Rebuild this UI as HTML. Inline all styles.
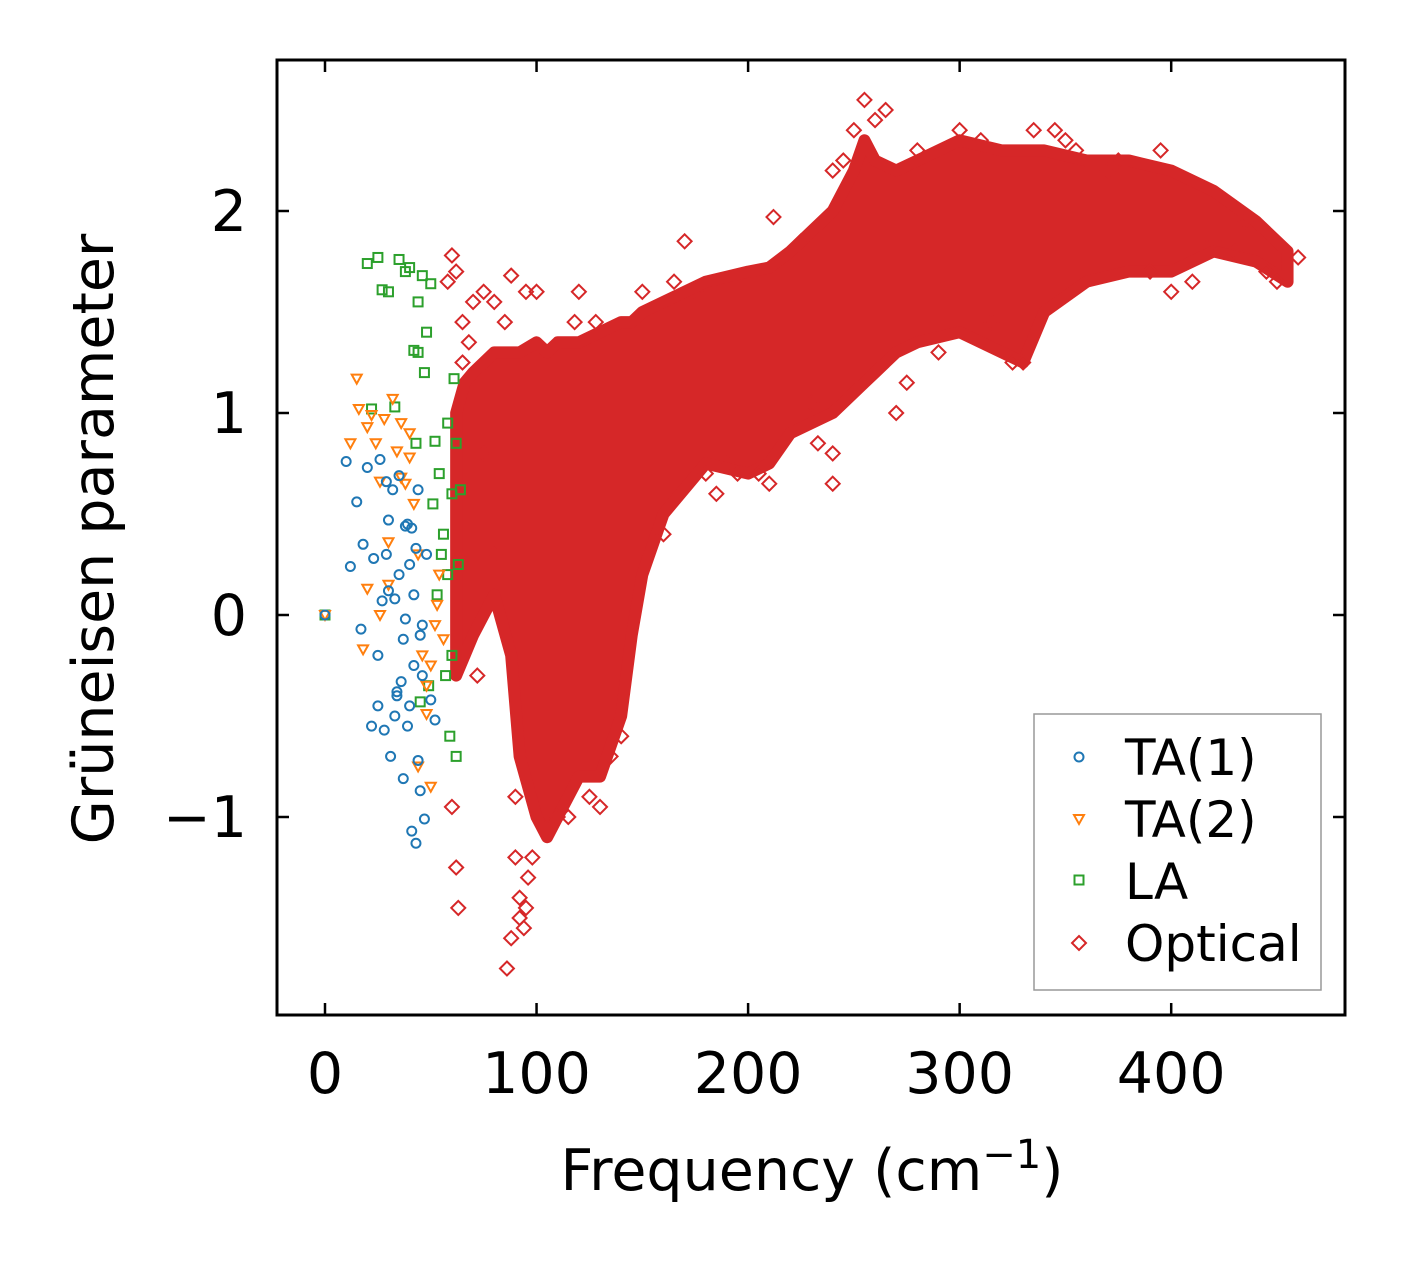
<!DOCTYPE html>
<html><head><meta charset="utf-8">
<style>
html,body{margin:0;padding:0;background:#fff;}
svg{display:block;font-family:"DejaVu Sans","Liberation Sans",sans-serif;}
</style></head>
<body>
<svg id="chart" width="1406" height="1264" viewBox="0 0 1406 1264" xmlns="http://www.w3.org/2000/svg" style="position:absolute;left:0;top:0">
<rect width="1406" height="1264" fill="#fff"/>
<g id="plot"></g>
<g id="axes"></g>
</svg>
<script>
// ---- data ----
const xTicks = [0, 100, 200, 300, 400];
const yTicks = [-1, 0, 1, 2];
const yTickLabels = ["\u22121", "0", "1", "2"];
// dense optical cloud envelope
const envFreq  = [62, 66, 70, 80, 88, 92, 100, 105, 110, 120, 130, 140, 145, 150, 160, 180, 200, 210, 220, 240, 250, 255, 260, 270, 280, 300, 320, 330, 340, 360, 380, 400, 420, 440, 455];
const envUpper = [1.0, 1.15, 1.2, 1.3, 1.3, 1.3, 1.35, 1.3, 1.35, 1.35, 1.4, 1.45, 1.45, 1.5, 1.55, 1.65, 1.7, 1.72, 1.8, 2.0, 2.2, 2.35, 2.25, 2.2, 2.25, 2.35, 2.3, 2.3, 2.3, 2.25, 2.25, 2.2, 2.1, 1.95, 1.8];
const envLower = [-0.3, -0.2, -0.1, 0.1, -0.2, -0.7, -1.0, -1.1, -1.0, -0.8, -0.8, -0.5, -0.1, 0.2, 0.5, 0.75, 0.7, 0.75, 0.9, 1.0, 1.1, 1.15, 1.2, 1.3, 1.35, 1.4, 1.3, 1.25, 1.5, 1.65, 1.7, 1.7, 1.8, 1.75, 1.65];
const optFreq = [60,58,62,65,70,75,80,88,95,100,120,170,212,240,255,265,300,335,60,62,63,86,88,92,96,130,240,240,233,270,330,400,390,450,460,72,75,80,65,68,90,92,94,98,105,115,125,140,160,180,190,210,230,250,280,310,350,370,420,430,445,85,90,95,110,118,128,135,150,165,175,185,195,205,225,245,260,275,290,315,325,345,355,375,395,410,435];
const optG    = [1.78,1.65,1.7,1.45,1.55,1.6,1.55,1.68,1.6,1.6,1.6,1.85,1.97,2.2,2.55,2.5,2.4,2.4,-0.95,-1.25,-1.45,-1.75,-1.6,-1.5,-1.3,-0.95,0.8,0.65,0.85,1.0,1.25,1.6,1.7,1.65,1.77,-0.3,0.8,0.3,1.25,1.35,-1.2,-1.4,-1.55,-1.2,-1.05,-1.0,-0.9,-0.6,0.4,0.7,0.75,0.65,1.05,2.4,2.3,2.35,2.35,2.2,1.85,1.8,1.7,1.45,-0.9,-1.45,-1.0,1.45,1.45,-0.7,1.6,1.65,1.6,0.6,0.7,0.7,1.85,2.25,2.45,1.15,1.3,1.45,1.25,2.4,2.3,2.25,2.3,1.65,1.95];
const ta1Freq = [0,10,12,15,17,18,20,22,23,25,26,27,28,29,30,31,32,33,34,35,36,37,38,39,40,41,42,43,44,45,46,47,48,33,35,38,40,42,44,25,30,37,41,43,45,29,34,39,46,50,52];
const ta1G    = [0,0.76,0.24,0.56,-0.07,0.35,0.73,-0.55,0.28,-0.45,0.77,0.07,-0.57,0.66,0.47,-0.7,0.62,0.08,-0.38,0.69,-0.33,-0.81,0.44,-0.55,-0.45,-1.07,0.1,-1.13,0.62,-0.87,-0.3,-1.01,0.3,-0.5,0.2,-0.02,0.25,-0.25,-0.72,-0.2,0.12,-0.12,0.43,0.33,-0.1,0.3,-0.4,0.45,-0.05,-0.42,-0.52];
const ta2Freq = [0,12,15,16,18,20,22,24,26,28,30,32,34,36,38,40,42,44,46,48,50,52,54,36,40,44,48,30,26,20,50,53,56];
const ta2G    = [0,0.85,1.17,1.02,-0.17,0.93,0.99,0.85,0.66,0.97,0.36,1.07,0.81,0.68,0.65,0.9,0.55,0.3,-0.2,-0.49,-0.85,-0.05,0.2,0.95,0.78,-0.75,-0.35,0.15,0.0,0.13,-0.25,0.05,-0.12];
const laFreq  = [0,20,22,25,27,30,33,35,38,40,42,44,46,48,50,52,54,56,58,60,61,62,63,64,45,49,53,57,59,62,55,58,60,43,47,51,44];
const laG     = [0,1.74,1.02,1.77,1.61,1.6,1.03,1.76,1.7,1.72,1.31,1.3,1.68,1.4,1.64,0.86,0.7,0.4,0.95,0.6,1.17,0.85,0.25,0.62,-0.43,-0.35,0.1,-0.3,-0.6,-0.7,0.3,0.2,-0.2,0.85,1.2,0.55,1.55];

// ---- scales ----
const L=277,R=1345,T=60,B=1015;
const sx = v => 325 + v*2.1155;
const sy = v => 615 - v*202;
const NS="http://www.w3.org/2000/svg";
const plot=document.getElementById('plot');
const axes=document.getElementById('axes');
function mk(tag,attrs,parent){const e=document.createElementNS(NS,tag);for(const k in attrs)e.setAttribute(k,attrs[k]);parent.appendChild(e);return e;}

let pts=[];
for(let i=0;i<envFreq.length;i++)pts.push(sx(envFreq[i])+','+sy(envUpper[i]));
for(let i=envFreq.length-1;i>=0;i--)pts.push(sx(envFreq[i])+','+sy(envLower[i]));
const cloud=mk('polygon',{points:pts.join(' '),fill:'#d62728',stroke:'#d62728','stroke-width':12,'stroke-linejoin':'round'},plot);



function diamond(x,y,c,p){return mk('polygon',{points:`${x},${y-7} ${x+7},${y} ${x},${y+7} ${x-7},${y}`,fill:'none',stroke:c,'stroke-width':2},p);}
function circ(x,y,c,p){return mk('circle',{cx:x,cy:y,r:4.5,fill:'none',stroke:c,'stroke-width':2},p);}
function tri(x,y,c,p){return mk('polygon',{points:`${x-5},${y-4} ${x+5},${y-4} ${x},${y+5}`,fill:'none',stroke:c,'stroke-width':2},p);}
function sq(x,y,c,p){return mk('rect',{x:x-4.5,y:y-4.5,width:9,height:9,fill:'none',stroke:c,'stroke-width':2},p);}

for(let i=0;i<optFreq.length;i++){const e=diamond(sx(optFreq[i]),sy(optG[i]),'#d62728',plot);

}
for(let i=0;i<laFreq.length;i++){const e=sq(sx(laFreq[i]),sy(laG[i]),'#2ca02c',plot);

}
for(let i=0;i<ta2Freq.length;i++){const e=tri(sx(ta2Freq[i]),sy(ta2G[i]),'#ff7f0e',plot);

}
for(let i=0;i<ta1Freq.length;i++){const e=circ(sx(ta1Freq[i]),sy(ta1G[i]),'#1f77b4',plot);

}

const fr=mk('rect',{x:L,y:T,width:R-L,height:B-T,fill:'none',stroke:'#000','stroke-width':3},axes);


xTicks.forEach(v=>{const x=sx(v);
mk('line',{x1:x,y1:B,x2:x,y2:B-12,stroke:'#000','stroke-width':2.5},axes);
mk('line',{x1:x,y1:T,x2:x,y2:T+12,stroke:'#000','stroke-width':2.5},axes);
const t=mk('text',{x:x,y:1093,'font-size':57,'text-anchor':'middle'},axes);t.textContent=v;

});
yTicks.forEach((v,i)=>{const y=sy(v);
mk('line',{x1:L,y1:y,x2:L+12,y2:y,stroke:'#000','stroke-width':2.5},axes);
mk('line',{x1:R,y1:y,x2:R-12,y2:y,stroke:'#000','stroke-width':2.5},axes);
const t=mk('text',{x:247,y:y+20,'font-size':57,'text-anchor':'end'},axes);t.textContent=yTickLabels[i];

});
</script>
<svg style="position:absolute;left:0;top:0" width="1406" height="1264">
<text x="812" y="1190" font-size="57" text-anchor="middle" font-family="DejaVu Sans, Liberation Sans, sans-serif">Frequency (cm<tspan dy="-22" font-size="40">−1</tspan><tspan dy="22">)</tspan></text>
<text transform="translate(113,539) rotate(-90)" font-size="57" text-anchor="middle" font-family="DejaVu Sans, Liberation Sans, sans-serif">Grüneisen parameter</text>
<g font-family="DejaVu Sans, Liberation Sans, sans-serif" font-size="50">
<rect x="1034" y="714" width="287" height="276" fill="#fff" stroke="#999" stroke-width="1.5"/>
<g><circle cx="1079" cy="757" r="4.5" fill="none" stroke="#1f77b4" stroke-width="2"/><text x="1125" y="775">TA(1)</text></g>
<g><polygon points="1074,815 1084,815 1079,824" fill="none" stroke="#ff7f0e" stroke-width="2"/><text x="1125" y="837">TA(2)</text></g>
<g><rect x="1074.5" y="875.5" width="9" height="9" fill="none" stroke="#2ca02c" stroke-width="2"/><text x="1125" y="899">LA</text></g>
<g><polygon points="1079,936 1086,943 1079,950 1072,943" fill="none" stroke="#d62728" stroke-width="2"/><text x="1125" y="961">Optical</text></g>
</g>
</svg>
</body></html>
